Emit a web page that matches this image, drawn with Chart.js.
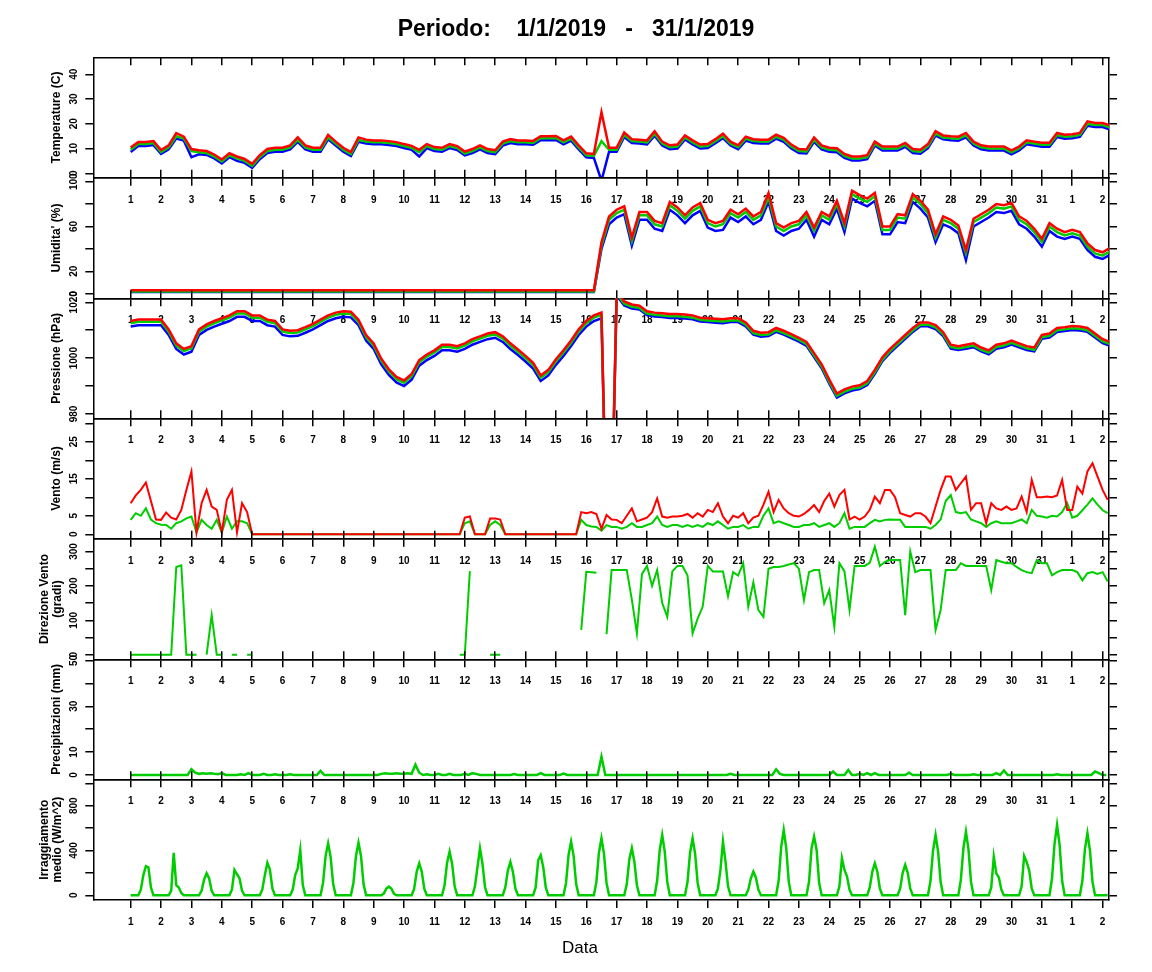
<!DOCTYPE html>
<html>
<head>
<meta charset="utf-8">
<title>Periodo 1/1/2019 - 31/1/2019</title>
<script src="https://cdn.jsdelivr.net/npm/chart.js@4.4.1/dist/chart.umd.min.js"></script>
<style>
  html, body { margin: 0; padding: 0; background: #fff; }
  #wrap { position: relative; width: 1152px; height: 972px; }
  #wrap canvas { position: absolute; left: 0; top: 0; }
</style>
</head>
<body>
<div id="wrap"></div>
<script>
"use strict";

// ---- day axis (x = day of the period, 1 = 1 Jan 00:00) ----
const DAY_TICKS = [1, 2, 3, 4, 5, 6, 7, 8, 9, 10, 11, 12, 13, 14, 15, 16, 17,
  18, 19, 20, 21, 22, 23, 24, 25, 26, 27, 28, 29, 30, 31, 32, 33];
const DAY_LABELS = ["1", "2", "3", "4", "5", "6", "7", "8", "9", "10", "11", "12", "13", "14", "15", "16", "17",
  "18", "19", "20", "21", "22", "23", "24", "25", "26", "27", "28", "29", "30", "31", "1", "2"];
const FIRST_DAY = 1;

// ---- temperature (C), every 6 h ----
const tempMax = [
  10.4, 12.6, 12.6, 13, 9.4, 11.3, 16.2, 14.8, 9.8, 9.3, 9, 7.6, 5.6, 8.1, 6.8, 5.8,
  3.8, 7.3, 9.8, 10.3, 10.3, 11.3, 14.5, 11.3, 10.3, 10.3, 15.5, 12.8, 10.3, 8.6, 14.5, 13.6,
  13.3, 13.3, 13, 12.6, 11.8, 11.1, 9.5, 11.8, 10.6, 10.3, 11.8, 11, 8.8, 9.8, 11.3, 9.8,
  9.3, 12.8, 13.8, 13.3, 13.3, 13.1, 15, 15, 15.1, 13.3, 14.8, 11.3, 8.1, 7.8, 24.7, 10.3,
  10.3, 16.5, 13.8, 13.6, 13.3, 17, 12.8, 11.3, 11.6, 15.3, 13.3, 11.6, 11.8, 13.8, 16, 12.8,
  11.3, 14.8, 13.8, 13.6, 13.6, 15.6, 14.3, 11.6, 9.8, 9.6, 14.5, 11.3, 10.3, 10.1, 7.8, 6.8,
  6.8, 7.3, 12.8, 10.8, 10.8, 10.8, 12.3, 9.8, 9.5, 11.8, 17, 15.3, 15, 14.8, 16.3, 12.8,
  11.3, 10.8, 10.8, 10.8, 9.3, 10.8, 13.3, 12.8, 12.3, 12.3, 16.3, 15.6, 15.8, 16.3, 21, 20.3,
  20.3, 19.3
];
const tempMean = [
  9.5, 11.8, 11.8, 12.2, 8.6, 10.5, 15, 14, 9, 8.5, 8.2, 6.8, 4.8, 7.3, 6, 5,
  3, 6.5, 9, 9.5, 9.5, 10.5, 13.5, 10.5, 9.5, 9.5, 14.5, 12, 9.5, 7.8, 13.5, 12.8,
  12.5, 12.5, 12.2, 11.8, 11, 10.3, 8.5, 11, 9.8, 9.5, 11, 10.2, 8, 9, 10.5, 9,
  8.5, 12, 13, 12.5, 12.5, 12.3, 14.2, 14.2, 14.3, 12.5, 14, 10.5, 7.3, 7, 13, 9.5,
  9.5, 15.5, 13, 12.8, 12.5, 16, 12, 10.5, 10.8, 14.5, 12.5, 10.8, 11, 13, 15, 12,
  10.5, 14, 13, 12.8, 12.8, 14.8, 13.5, 10.8, 9, 8.8, 13.5, 10.5, 9.5, 9.3, 7, 6,
  6, 6.5, 12, 10, 10, 10, 11.5, 9, 8.7, 11, 16, 14.5, 14.2, 14, 15.3, 12,
  10.5, 10, 10, 10, 8.5, 10, 12.5, 12, 11.5, 11.5, 15.5, 14.8, 15, 15.5, 20, 19.5,
  19.5, 18.5
];
const tempMin = [
  8.6, 11, 11, 11.4, 7.8, 9.7, 14, 13.2, 6.5, 7.7, 7.4, 6, 4, 6.5, 5, 4.2,
  2.2, 5.7, 8.2, 8.7, 8.7, 9.7, 12.7, 9.7, 8.7, 8.7, 13.7, 11.2, 8.7, 7, 12.7, 12,
  11.7, 11.7, 11.4, 11, 10.2, 9.5, 6.8, 10.2, 9, 8.7, 10.2, 9.4, 7.2, 8.2, 9.7, 8.2,
  7.7, 11.2, 12.2, 11.7, 11.7, 11.5, 13.4, 13.4, 13.5, 11.7, 13.2, 9.7, 6.5, 6.2, -3, 8.7,
  8.7, 14.7, 12.2, 12, 11.7, 15.2, 11.2, 9.7, 10, 13.7, 11.7, 10, 10.2, 12.2, 14.2, 11.2,
  9.7, 13.2, 12.2, 12, 12, 14, 12.7, 10, 8.2, 8, 12.7, 9.7, 8.7, 8.5, 6.2, 5.2,
  5.2, 5.7, 11.2, 9.2, 9.2, 9.2, 10.7, 8.2, 7.9, 10.2, 15.2, 13.7, 13.4, 13.2, 14.5, 11.2,
  9.7, 9.2, 9.2, 9.2, 7.7, 9.2, 11.7, 11.2, 10.7, 10.7, 14.7, 14, 14.2, 14.7, 19.2, 18.7,
  18.7, 17.7
];

// ---- relative humidity (%), every 6 h ----
const humMax = [
  3, 3, 3, 3, 3, 3, 3, 3, 3, 3, 3, 3, 3, 3, 3, 3, 3, 3, 3, 3, 3, 3, 3, 3, 3, 3, 3, 3, 3, 3,
  3, 3, 3, 3, 3, 3, 3, 3, 3, 3, 3, 3, 3, 3, 3, 3, 3, 3, 3, 3, 3, 3, 3, 3, 3, 3, 3, 3, 3, 3,
  3, 3, 46, 69, 75, 78, 50, 73, 73, 65, 63, 82, 77, 70, 77, 81, 66, 63, 65, 75,
  71, 76, 69, 73, 90, 63, 59, 63, 65, 73, 59, 73, 69, 83, 63, 92, 88, 85, 90, 60,
  60, 71, 70, 89, 83, 75, 53, 69, 66, 61, 39, 67, 71, 75, 80, 79, 81, 69, 65, 58,
  49, 63, 58, 55, 57, 55, 45, 39, 37, 41
];
const humMean = [
  2, 2, 2, 2, 2, 2, 2, 2, 2, 2, 2, 2, 2, 2, 2, 2, 2, 2, 2, 2, 2, 2, 2, 2, 2, 2, 2, 2, 2, 2,
  2, 2, 2, 2, 2, 2, 2, 2, 2, 2, 2, 2, 2, 2, 2, 2, 2, 2, 2, 2, 2, 2, 2, 2, 2, 2, 2, 2, 2, 2,
  2, 2, 43, 66, 72, 75, 47, 70, 70, 62, 60, 79, 74, 67, 74, 78, 63, 60, 62, 72,
  68, 73, 66, 70, 86, 60, 56, 60, 62, 70, 56, 70, 66, 80, 60, 89, 85, 82, 87, 57,
  57, 68, 67, 86, 80, 72, 50, 66, 63, 58, 36, 64, 68, 72, 77, 76, 78, 66, 62, 55,
  46, 60, 55, 52, 54, 52, 42, 36, 34, 38
];
const humMin = [
  1.5, 1.5, 1.5, 1.5, 1.5, 1.5, 1.5, 1.5, 1.5, 1.5, 1.5, 1.5, 1.5, 1.5, 1.5, 1.5, 1.5, 1.5, 1.5, 1.5,
  1.5, 1.5, 1.5, 1.5, 1.5, 1.5, 1.5, 1.5, 1.5, 1.5, 1.5, 1.5, 1.5, 1.5, 1.5, 1.5, 1.5, 1.5, 1.5, 1.5,
  1.5, 1.5, 1.5, 1.5, 1.5, 1.5, 1.5, 1.5, 1.5, 1.5, 1.5, 1.5, 1.5, 1.5, 1.5, 1.5, 1.5, 1.5, 1.5, 1.5,
  1.5, 1.5, 40, 62, 68, 71, 43, 66, 66, 58, 56, 75, 70, 63, 70, 74, 59, 56, 57, 68,
  64, 69, 62, 66, 82, 56, 52, 56, 58, 66, 51, 66, 62, 76, 55, 85, 81, 78, 83, 53,
  53, 64, 63, 82, 76, 68, 46, 62, 59, 54, 30, 60, 64, 68, 73, 72, 74, 62, 58, 51,
  42, 56, 51, 49, 51, 49, 39, 33, 31, 35
];

// ---- pressure (hPa), every 6 h ----
const pressMax = [
  1013.3, 1013.8, 1013.8, 1013.8, 1013.8, 1010.3, 1005.3, 1003.3, 1004.3, 1010.3, 1012.1, 1013.3,
  1014.3, 1015.3, 1016.8, 1016.8, 1015.3, 1015.3, 1013.8, 1013.3, 1010.3, 1009.8, 1010, 1011.1,
  1012.3, 1013.8, 1015.3, 1016.3, 1016.8, 1016.6, 1013.8, 1008.3, 1005.3, 999.8, 996, 993.3,
  992, 994.3, 999.3, 1001.3, 1002.8, 1004.8, 1004.8, 1004.3, 1005.3, 1006.8, 1007.8, 1008.8,
  1009.3, 1007.8, 1005.3, 1003.1, 1000.8, 998.3, 993.8, 995.8, 999.6, 1002.8, 1006.3, 1010.3,
  1013.3, 1015.3, 1016.3, 900, 1023.8, 1020.3, 1019.2, 1018.8, 1016.8, 1016.3, 1016.1, 1015.8,
  1015.8, 1015.6, 1015.3, 1014.5, 1014.3, 1014.1, 1013.9, 1014.3, 1014.3, 1012.8, 1009.8, 1009.1,
  1009.3, 1010.8, 1009.8, 1008.6, 1007.3, 1005.8, 1001.8, 997.8, 992.3, 987.3, 988.8, 989.8,
  990.3, 991.8, 995.8, 1000.3, 1003.3, 1005.8, 1008.3, 1010.8, 1012.8, 1012.8, 1011.8, 1009.3,
  1004.8, 1004.3, 1004.8, 1005.3, 1003.8, 1002.8, 1004.8, 1005.3, 1006.3, 1005.3, 1004.3, 1003.8,
  1008.3, 1008.8, 1010.8, 1011.1, 1011.5, 1011.3, 1010.8, 1008.8, 1006.8, 1005.8
];
const pressMean = [
  1012.5, 1013, 1013, 1013, 1013, 1009.5, 1004.5, 1002.5, 1003.5, 1009.5, 1011.3, 1012.5,
  1013.5, 1014.5, 1016, 1016, 1014.5, 1014.5, 1013, 1012.5, 1009.5, 1009, 1009.2, 1010.3,
  1011.5, 1013, 1014.5, 1015.5, 1016, 1015.8, 1013, 1007.5, 1004.5, 999, 995.2, 992.5,
  991.2, 993.5, 998.5, 1000.5, 1002, 1004, 1004, 1003.5, 1004.5, 1006, 1007, 1008,
  1008.5, 1007, 1004.5, 1002.3, 1000, 997.5, 993, 995, 998.8, 1002, 1005.5, 1009.5,
  1012.5, 1014.5, 1015.5, 900, 1023, 1019.5, 1018.4, 1018, 1016, 1015.5, 1015.3, 1015,
  1015, 1014.8, 1014.5, 1013.7, 1013.5, 1013.3, 1013.1, 1013.5, 1013.5, 1012, 1009, 1008.3,
  1008.5, 1010, 1009, 1007.8, 1006.5, 1005, 1001, 997, 991.5, 986.5, 988, 989,
  989.5, 991, 995, 999.5, 1002.5, 1005, 1007.5, 1010, 1012, 1012, 1011, 1008.5,
  1004, 1003.5, 1004, 1004.5, 1003, 1002, 1004, 1004.5, 1005.5, 1004.5, 1003.5, 1003,
  1007.5, 1008, 1010, 1010.3, 1010.7, 1010.5, 1010, 1008, 1006, 1005
];
const pressMin = [
  1011.3, 1011.8, 1011.8, 1011.8, 1011.8, 1008.3, 1003.3, 1001.3, 1002.3, 1008.3, 1010.1, 1011.3,
  1012.3, 1013.3, 1014.8, 1014.8, 1013.3, 1013.3, 1011.8, 1011.3, 1008.3, 1007.8, 1008, 1009.1,
  1010.3, 1011.8, 1013.3, 1014.3, 1014.8, 1014.6, 1011.8, 1006.3, 1003.3, 997.8, 994, 991.3,
  990, 992.3, 997.3, 999.3, 1000.8, 1002.8, 1002.8, 1002.3, 1003.3, 1004.8, 1005.8, 1006.8,
  1007.3, 1005.8, 1003.3, 1001.1, 998.8, 996.3, 991.8, 993.8, 997.6, 1000.8, 1004.3, 1008.3,
  1011.3, 1013.3, 1014.3, 900, 1022.4, 1018.9, 1017.8, 1017.4, 1015.4, 1014.9, 1014.7, 1014.4,
  1014.4, 1014.2, 1013.9, 1013.1, 1012.9, 1012.7, 1012.5, 1012.9, 1012.9, 1011.4, 1008.4, 1007.7,
  1007.9, 1009.4, 1008.4, 1007.2, 1005.9, 1004.4, 1000.4, 996.4, 990.9, 985.9, 987.4, 988.4,
  988.9, 990.4, 994.4, 998.9, 1001.9, 1004.4, 1006.9, 1009.4, 1011.4, 1011.4, 1010.4, 1007.9,
  1003.4, 1002.9, 1003.4, 1003.9, 1002.4, 1001.4, 1003.4, 1003.9, 1004.9, 1003.9, 1002.9, 1002.4,
  1006.9, 1007.4, 1009.4, 1009.7, 1010.1, 1009.9, 1009.4, 1007.4, 1005.4, 1004.4
];

// ---- wind speed (m/s), every 4 h: gust and mean ----
const windGust = [
  8.4, 10.5, 12, 14, 9, 4, 3.9, 5.9, 4.5, 4, 6.6, 12, 17, 0.5, 8.4, 12, 7.5, 6.6,
  0.5, 9.3, 12, 0.5, 8.4, 6, 0, 0, 0, 0, 0, 0, 0, 0, 0, 0, 0, 0,
  0, 0, 0, 0, 0, 0, 0, 0, 0, 0, 0, 0, 0, 0, 0, 0, 0, 0, 0, 0, 0, 0, 0, 0, 0, 0, 0, 0, 0, 0,
  4.5, 4.8, 0, 0, 0, 4.3, 4.3, 4, 0, 0, 0, 0, 0, 0, 0, 0, 0, 0, 0, 0, 0, 0, 0, 6,
  5.7, 6, 5.5, 1.5, 5.2, 4, 3.9, 3, 5, 7, 3.5, 4, 4.5, 6, 9.7, 4.8, 4.5, 4.8,
  4.8, 5, 5.5, 4.5, 5.7, 4.8, 6.6, 6, 8.4, 4.8, 3, 5, 4.5, 5.7, 3, 4.5, 5, 8,
  11.5, 6, 9.3, 7, 5.7, 5, 4.8, 5.5, 6.6, 7.9, 6, 9, 11, 7.5, 10.6, 12, 4, 4.8,
  4, 4.8, 6.6, 10.2, 8.4, 12, 12, 10, 5.7, 5.2, 4.8, 5.7, 5.7, 4.8, 3, 7.5, 12, 15.6,
  15.6, 12, 13.8, 15.6, 6.6, 8.4, 8.4, 3, 8.4, 7, 6.6, 7.5, 6.6, 7, 10.2, 6, 14.7, 10,
  10, 10.2, 10, 10.5, 14.7, 6.6, 6.6, 12.9, 11, 17, 19.2, 15.6, 12, 9.3
];
const windMean = [
  3.9, 5.7, 5, 7, 4, 3, 2.6, 2.5, 1.5, 3, 3.5, 4.3, 4.8, 0.5, 3.9, 2.5, 1.5, 3.9,
  0.5, 4.8, 1.5, 3.5, 3.5, 3, 0, 0, 0, 0, 0, 0, 0, 0, 0, 0, 0, 0,
  0, 0, 0, 0, 0, 0, 0, 0, 0, 0, 0, 0, 0, 0, 0, 0, 0, 0, 0, 0, 0, 0, 0, 0, 0, 0, 0, 0, 0, 0,
  3, 3.5, 0, 0, 0, 2.5, 3.5, 2.5, 0, 0, 0, 0, 0, 0, 0, 0, 0, 0, 0, 0, 0, 0, 0, 3.9,
  2.5, 2.1, 2, 1, 2.5, 2, 2, 1.5, 2, 3, 2, 2, 2.5, 3, 4.8, 2.5, 2, 2.5,
  2.5, 2, 2.5, 2, 2.5, 2, 3, 2.5, 3.5, 2.5, 1.5, 2, 2, 2.5, 1.5, 2, 2, 5,
  7, 3, 3.5, 3, 2.5, 2, 2, 2.5, 2.5, 3, 2, 2.5, 3, 2, 3, 5.7, 1.5, 2,
  2, 2, 3, 3.9, 3.5, 3.9, 4, 3.9, 3.9, 2, 2, 2, 2, 2, 1.5, 2.5, 4, 9,
  10.6, 6, 5.7, 6, 4, 3.5, 3, 2, 3, 3.5, 3, 3, 3, 3.5, 4, 3, 6.6, 5,
  4.8, 4.5, 5, 4.8, 6, 8.4, 4.5, 5, 6.5, 8, 9.7, 8, 6.5, 5.7
];

// ---- wind direction (degrees), every 4 h, null = no reading ----
const windDir = [
  0, 0, 0, 0, 0, 0, 0, 0, 0, 255, 260, 0, 0, 0, null, 0, 115, 0,
  0, null, 0, 0, null, 0, 0, null, null, null, null, null,
  null, null, null, null, null, null, null, null, null, null, null, null,
  null, null, null, null, null, null, null, null, null, null, null, null,
  null, null, null, null, null, null, null, null, null, null, null, 0,
  0, 243, null, null, null, 0, 0, 0, null, null, null, null,
  null, null, null, null, null, null, null, null, null, null, null, 72,
  241, 240, 238, null, 60, 246, 246, 246, 246, 160, 62, 235,
  258, 200, 246, 150, 110, 242, 258, 258, 230, 62, 105, 140,
  258, 242, 242, 242, 170, 240, 230, 266, 140, 210, 130, 110,
  250, 255, 255, 258, 262, 266, 250, 159, 240, 246, 246, 150,
  188, 81, 266, 242, 130, 258, 258, 258, 267, 314, 258, 270,
  275, 275, 275, 115, 300, 240, 246, 246, 246, 72, 130, 246,
  246, 246, 266, 258, 258, 258, 258, 258, 188, 275, 270, 266,
  266, 255, 246, 240, 237, 275, 266, 266, 231, 240, 246, 246,
  246, 240, 216, 237, 240, 235, 240, 213
];

// ---- precipitation (mm), every 3 h ----
const rain = [
  0, 0, 0, 0, 0, 0, 0, 0, 0, 0, 0, 0, 0, 0, 0, 0,
  2.5, 1, 0.5, 0.8, 0.5, 0.8, 0.5, 0.3, 0.8, 0, 0, 0, 0, 0.3, 0, 0.8,
  0, 0, 0, 0.5, 0, 0, 0.3, 0, 0, 0, 0.3, 0, 0, 0, 0, 0,
  0, 0, 1.8, 0, 0, 0, 0, 0, 0, 0, 0, 0, 0, 0, 0, 0,
  0, 0, 0.5, 0.8, 0.5, 0.5, 0.8, 0.5, 0.5, 0.8, 0.5, 4.5, 1, 0, 0.3, 0,
  0, 0.5, 0, 0, 0.5, 0, 0, 0, 0.5, 0, 0.8, 0.5, 0, 0, 0, 0,
  0, 0, 0, 0, 0, 0.4, 0, 0, 0, 0, 0, 0, 0.8, 0, 0, 0,
  0, 0, 0.6, 0, 0, 0, 0, 0, 0, 0, 0, 0, 8, 0, 0, 0,
  0, 0, 0, 0, 0, 0, 0, 0, 0, 0, 0, 0, 0, 0, 0, 0,
  0, 0, 0, 0, 0, 0, 0, 0, 0, 0, 0, 0, 0, 0, 0.5, 0,
  0, 0, 0, 0, 0, 0, 0, 0, 0, 0, 2.5, 0.5, 0, 0, 0, 0,
  0, 0, 0, 0, 0, 0, 0, 0, 0, 1.5, 0, 0, 0, 2.2, 0, 0,
  0.5, 0, 0.8, 0, 0.8, 0, 0, 0, 0, 0, 0, 0, 0, 1, 0, 0,
  0, 0, 0, 0, 0, 0, 0, 0, 0.5, 0, 0, 0, 0, 0, 0.3, 0,
  0, 0, 0, 0, 0.8, 0, 2, 0, 0, 0, 0, 0, 0, 0, 0, 0,
  0, 0, 0, 0, 0.3, 0, 0, 0, 0, 0, 0, 0, 0, 0, 1.5, 0.8,
  0, 0
];

// ---- mean solar radiation (W/m^2), every 2 h ----
const radiation = [
  0, 0, 0, 0, 50, 180, 260, 250, 70, 0, 0, 0,
  0, 0, 0, 0, 40, 380, 90, 70, 20, 0, 0, 0,
  0, 0, 0, 0, 40, 140, 196, 150, 40, 0, 0, 0,
  0, 0, 0, 0, 50, 226, 190, 150, 40, 0, 0, 0,
  0, 0, 0, 0, 50, 180, 291, 230, 60, 0, 0, 0,
  0, 0, 0, 0, 50, 180, 240, 404, 90, 0, 0, 0,
  0, 0, 0, 0, 110, 350, 464, 340, 100, 0, 0, 0,
  0, 0, 0, 0, 110, 350, 470, 350, 100, 0, 0, 0,
  0, 0, 0, 0, 15, 60, 77, 60, 15, 0, 0, 0,
  0, 0, 0, 0, 60, 210, 286, 210, 60, 0, 0, 0,
  0, 0, 0, 0, 90, 290, 389, 280, 80, 0, 0, 0,
  0, 0, 0, 0, 80, 250, 420, 280, 70, 0, 0, 0,
  0, 0, 0, 0, 70, 220, 298, 210, 60, 0, 0, 0,
  0, 0, 0, 0, 70, 313, 357, 250, 70, 0, 0, 0,
  0, 0, 0, 0, 110, 360, 479, 350, 100, 0, 0, 0,
  0, 0, 0, 0, 120, 380, 509, 370, 110, 0, 0, 0,
  0, 0, 0, 0, 100, 320, 420, 300, 90, 0, 0, 0,
  0, 0, 0, 0, 130, 400, 538, 390, 120, 0, 0, 0,
  0, 0, 0, 0, 120, 380, 509, 370, 110, 0, 0, 0,
  0, 0, 0, 0, 60, 226, 479, 300, 80, 0, 0, 0,
  0, 0, 0, 0, 50, 150, 211, 160, 50, 0, 0, 0,
  0, 0, 0, 0, 130, 430, 583, 420, 120, 0, 0, 0,
  0, 0, 0, 0, 120, 420, 524, 405, 110, 0, 0, 0,
  0, 0, 0, 0, 80, 330, 226, 170, 50, 0, 0, 0,
  0, 0, 0, 0, 70, 210, 286, 210, 60, 0, 0, 0,
  0, 0, 0, 0, 60, 200, 271, 200, 60, 0, 0, 0,
  0, 0, 0, 0, 130, 400, 538, 390, 120, 0, 0, 0,
  0, 0, 0, 0, 140, 420, 568, 410, 120, 0, 0, 0,
  0, 0, 0, 0, 70, 345, 196, 160, 50, 0, 0, 0,
  0, 0, 0, 0, 80, 351, 298, 220, 60, 0, 0, 0,
  0, 0, 0, 0, 150, 460, 628, 450, 130, 0, 0, 0,
  0, 0, 0, 0, 130, 410, 553, 400, 120, 0, 0, 0,
  0, 0, 0
];

// ---- y tick values and which of them carry a label ----
const tempTicks = [0, 10, 20, 30, 40];
const tempLabels = [0, 10, 20, 30, 40];
const humTicks = [0, 20, 40, 60, 80, 100];
const humLabels = [0, 20, 60, 100];
const pressTicks = [980, 990, 1000, 1010, 1020];
const pressLabels = [980, 1000, 1020];
const windTicks = [0, 5, 10, 15, 20, 25, 30];
const windLabels = [0, 5, 15, 25];
const dirTicks = [0, 50, 100, 150, 200, 250, 300];
const dirLabels = [0, 100, 200, 300];
const rainTicks = [0, 10, 20, 30, 40, 50];
const rainLabels = [0, 10, 30, 50];
const radTicks = [0, 200, 400, 600, 800, 1000];
const radLabels = [0, 400, 800];

// ---- page layout ----
const W = 1152, H = 972;
const PLOT_LEFT = 93.3, PLOT_RIGHT = 1109;
const PANEL_TOP = [57.3, 177.7, 298.3, 418.3, 538.7, 659.3, 779.3];
const PANEL_BOTTOM = [177.7, 298.3, 418.3, 538.7, 659.3, 779.3, 900];
const X_MIN = -0.231, X_MAX = 33.21;
const TITLE_PAD_TOP = 16.2, TITLE_PAD_BOTTOM = 4, TITLE_SIZE = 23;
const TITLE_BLOCK = TITLE_PAD_TOP + TITLE_SIZE * 1.2 + TITLE_PAD_BOTTOM;

const RED = "#ff0000", GREEN = "#00cd00", BLUE = "#0000ff";
const STEP_6H = 0.25, STEP_4H = 1 / 6, STEP_3H = 0.125, STEP_2H = 1 / 12;

Chart.defaults.font.family = '"Liberation Sans", Arial, Helvetica, sans-serif';
Chart.defaults.color = "#000";

function toPoints(values, step) {
  return values.map((v, i) => ({ x: FIRST_DAY + i * step, y: v }));
}

const panels = [
  { title: ["Temperature (C)"], min: -1.78, max: 46.87, ticks: tempTicks, labels: tempLabels, lw: 2.5,
    series: [[tempMax, STEP_6H, RED], [tempMean, STEP_6H, GREEN], [tempMin, STEP_6H, BLUE]] },
  { title: ["Umidita' (%)"], min: -4.1, max: 103.6, ticks: humTicks, labels: humLabels, lw: 2.5,
    series: [[humMax, STEP_6H, RED], [humMean, STEP_6H, GREEN], [humMin, STEP_6H, BLUE]] },
  { title: ["Pressione (hPa)"], min: 978.46, max: 1021.43, ticks: pressTicks, labels: pressLabels, lw: 2.5,
    series: [[pressMax, STEP_6H, RED], [pressMean, STEP_6H, GREEN], [pressMin, STEP_6H, BLUE]] },
  { title: ["Vento (m/s)"], min: -1.19, max: 31.35, ticks: windTicks, labels: windLabels, lw: 2,
    series: [[windGust, STEP_4H, RED], [windMean, STEP_4H, GREEN]] },
  { title: ["Direzione Vento", "(gradi)"], min: -13.4, max: 337.2, ticks: dirTicks, labels: dirLabels, lw: 2,
    series: [[windDir, STEP_4H, GREEN]] },
  { title: ["Precipitazioni (mm)"], min: -1.88, max: 50.5, ticks: rainTicks, labels: rainLabels, lw: 2.5,
    series: [[rain, STEP_3H, GREEN]] },
  { title: ["Irraggiamento", "medio (W/m^2)"], min: -42, max: 1035.7, ticks: radTicks, labels: radLabels, lw: 2.5,
    series: [[radiation, STEP_2H, GREEN]] }
];

// vertical tick labels on the left axis, placed with the chart's own y scale
function tickLabelPlugin(values) {
  return {
    id: "verticalTickLabels",
    afterDraw(chart) {
      const scale = chart.scales.y;
      const ctx = chart.ctx;
      ctx.save();
      ctx.font = 'bold 10px "Liberation Sans", Arial, sans-serif';
      ctx.fillStyle = "#000";
      ctx.textAlign = "center";
      ctx.textBaseline = "alphabetic";
      values.forEach(v => {
        ctx.save();
        ctx.translate(76.7, scale.getPixelForValue(v));
        ctx.rotate(-Math.PI / 2);
        ctx.fillText(String(v), 0, 0);
        ctx.restore();
      });
      ctx.restore();
    }
  };
}

// "Data" under the last panel
const xTitlePlugin = {
  id: "xTitle",
  afterDraw(chart) {
    const ctx = chart.ctx;
    ctx.save();
    ctx.font = '17px "Liberation Sans", Arial, sans-serif';
    ctx.fillStyle = "#000";
    ctx.textAlign = "center";
    ctx.textBaseline = "middle";
    ctx.fillText("Data", 580, 948.3);
    ctx.restore();
  }
};

function gridOpts(len) {
  return { drawOnChartArea: false, color: "#000", lineWidth: 1.5, tickLength: len };
}
function borderOpts() {
  return { color: "#000", width: 1.5 };
}

const wrap = document.getElementById("wrap");

panels.forEach((p, i) => {
  const canvas = document.createElement("canvas");
  canvas.width = W;
  canvas.height = H;
  canvas.style.width = W + "px";
  canvas.style.height = H + "px";
  wrap.appendChild(canvas);

  const top = PANEL_TOP[i], bottom = PANEL_BOTTOM[i];
  const first = i === 0, last = i === panels.length - 1;
  const dayTicks = s => { s.ticks = DAY_TICKS.map(v => ({ value: v })); };
  const yTicks = s => { s.ticks = p.ticks.map(v => ({ value: v })); };

  const plugins = [tickLabelPlugin(p.labels)];
  if (last) plugins.push(xTitlePlugin);

  new Chart(canvas, {
    type: "line",
    data: {
      datasets: p.series.map(([values, step, color]) => ({
        data: toPoints(values, step),
        borderColor: color,
        backgroundColor: color,
        borderWidth: p.lw,
        pointRadius: 0,
        pointHoverRadius: 0,
        tension: 0,
        fill: false,
        spanGaps: false,
        xAxisID: "x",
        yAxisID: "y"
      }))
    },
    options: {
      responsive: false,
      animation: false,
      events: [],
      layout: { padding: 0 },
      plugins: {
        legend: { display: false },
        tooltip: { enabled: false },
        title: first ? {
          display: true,
          text: "Periodo:    1/1/2019   -   31/1/2019",
          color: "#000",
          font: { size: TITLE_SIZE, weight: "bold", lineHeight: 1.2 },
          padding: { top: TITLE_PAD_TOP, bottom: TITLE_PAD_BOTTOM }
        } : { display: false }
      },
      scales: {
        x: {
          type: "linear", position: "bottom", min: X_MIN, max: X_MAX,
          afterBuildTicks: dayTicks,
          afterFit: s => { s.height = H - bottom; },
          ticks: {
            autoSkip: false, maxRotation: 0, minRotation: 0, padding: 8.4,
            font: { size: 10, weight: "bold" },
            callback: (v, idx) => DAY_LABELS[idx]
          },
          grid: gridOpts(8),
          border: borderOpts()
        },
        xTop: {
          type: "linear", position: "top", min: X_MIN, max: X_MAX,
          afterBuildTicks: dayTicks,
          afterFit: s => { s.height = first ? top - TITLE_BLOCK : top; },
          ticks: { display: false },
          grid: gridOpts(first ? -8 : 8),
          border: borderOpts()
        },
        y: {
          type: "linear", position: "left", min: p.min, max: p.max,
          afterBuildTicks: yTicks,
          afterFit: s => { s.width = PLOT_LEFT; },
          ticks: { display: false },
          grid: gridOpts(8),
          border: borderOpts(),
          title: {
            display: true,
            text: p.title,
            color: "#000",
            font: { size: 12, weight: "bold", lineHeight: 1.15 },
            padding: { top: p.title.length > 1 ? 37.4 : 49.9, bottom: 0 }
          }
        },
        yRight: {
          type: "linear", position: "right", min: p.min, max: p.max,
          afterBuildTicks: yTicks,
          afterFit: s => { s.width = W - PLOT_RIGHT; },
          ticks: { display: false },
          grid: gridOpts(8),
          border: borderOpts()
        }
      }
    },
    plugins: plugins
  });
});
</script>
</body>
</html>
